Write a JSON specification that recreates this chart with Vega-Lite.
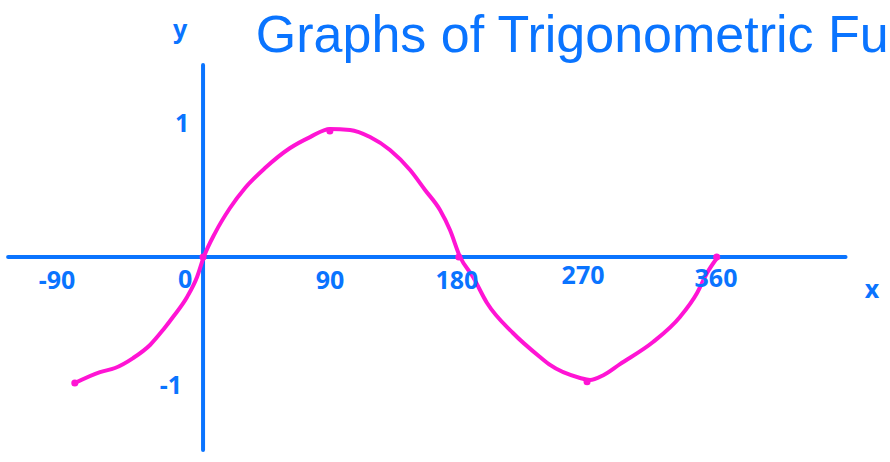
{
  "$schema": "https://vega.github.io/schema/vega-lite/v6.json",
  "width": 890,
  "height": 462,
  "autosize": "none",
  "padding": 0,
  "background": "white",
  "config": {"view": {"stroke": null}},
  "datasets": {
    "curve": [
      {"x": -90, "y": -1.0}, {"x": -72.3, "y": -0.913}, {"x": -61.8, "y": -0.881}, {"x": -49.1, "y": -0.802},
      {"x": -37.2, "y": -0.698}, {"x": -28.1, "y": -0.579}, {"x": -21.1, "y": -0.476}, {"x": -11.2, "y": -0.317},
      {"x": -4.2, "y": -0.159}, {"x": 0.5, "y": 0.0}, {"x": 8.4, "y": 0.19}, {"x": 18.9, "y": 0.389},
      {"x": 29.5, "y": 0.548}, {"x": 43.5, "y": 0.706}, {"x": 61.1, "y": 0.865}, {"x": 75.1, "y": 0.952},
      {"x": 89.1, "y": 1.016}, {"x": 103.2, "y": 1.008}, {"x": 117.2, "y": 0.952}, {"x": 131.2, "y": 0.849},
      {"x": 145.3, "y": 0.69}, {"x": 155.8, "y": 0.532}, {"x": 166.3, "y": 0.373}, {"x": 173.3, "y": 0.214},
      {"x": 180.4, "y": 0.0}, {"x": 189.5, "y": -0.159}, {"x": 199.3, "y": -0.365}, {"x": 217.5, "y": -0.603},
      {"x": 236.5, "y": -0.794}, {"x": 243.5, "y": -0.857}, {"x": 264.6, "y": -0.96}, {"x": 271.6, "y": -0.976},
      {"x": 280.6, "y": -0.94}, {"x": 292.6, "y": -0.85}, {"x": 315.8, "y": -0.675}, {"x": 334.7, "y": -0.476},
      {"x": 346.7, "y": -0.286}, {"x": 353.7, "y": -0.127}, {"x": 361.2, "y": 0.0}
    ],
    "dots": [
      {"x": -90, "y": -1}, {"x": 0, "y": 0}, {"x": 89, "y": 1.0}, {"x": 179.5, "y": 0},
      {"x": 269.5, "y": -0.99}, {"x": 360.5, "y": 0}
    ],
    "xaxis": [{"x": -136.8, "x2": 450.9, "y": 0}],
    "yaxis": [{"x": 0, "y": 1.524, "y2": -1.532}],
    "labels": [
      {"text": "-90", "x": -102.5, "y": -0.19},
      {"text": "0", "x": -12.6, "y": -0.183},
      {"text": "90", "x": 89.1, "y": -0.19},
      {"text": "180", "x": 178.2, "y": -0.19},
      {"text": "270", "x": 266.7, "y": -0.151},
      {"text": "360", "x": 360, "y": -0.175},
      {"text": "x", "x": 469.5, "y": -0.262},
      {"text": "y", "x": -16.1, "y": 1.8},
      {"text": "1", "x": -14.7, "y": 1.056},
      {"text": "-1", "x": -22.5, "y": -1.024}
    ],
    "title": [{"text": "Graphs of Trigonometric Functions", "x": 37, "y": 1.627}]
  },
  "layer": [
    {
      "data": {"name": "xaxis"},
      "mark": {"type": "rule", "color": "#0a74ff", "strokeWidth": 4, "strokeCap": "round"},
      "encoding": {
        "x": {"field": "x", "type": "quantitative", "scale": {"domain": [-142.5, 482.1], "nice": false, "zero": false}, "axis": null},
        "x2": {"field": "x2"},
        "y": {"field": "y", "type": "quantitative", "scale": {"domain": [-1.627, 2.04], "nice": false, "zero": false}, "axis": null}
      }
    },
    {
      "data": {"name": "yaxis"},
      "mark": {"type": "rule", "color": "#0a74ff", "strokeWidth": 4, "strokeCap": "round"},
      "encoding": {
        "x": {"field": "x", "type": "quantitative"},
        "y": {"field": "y", "type": "quantitative"},
        "y2": {"field": "y2"}
      }
    },
    {
      "data": {"name": "curve"},
      "mark": {"type": "line", "color": "#ff14d4", "strokeWidth": 4, "strokeCap": "round", "strokeJoin": "round", "interpolate": "monotone"},
      "encoding": {
        "x": {"field": "x", "type": "quantitative"},
        "y": {"field": "y", "type": "quantitative"}
      }
    },
    {
      "data": {"name": "dots"},
      "mark": {"type": "circle", "color": "#ff14d4", "size": 50, "opacity": 1},
      "encoding": {
        "x": {"field": "x", "type": "quantitative"},
        "y": {"field": "y", "type": "quantitative"}
      }
    },
    {
      "data": {"name": "labels"},
      "mark": {"type": "text", "color": "#0a74ff", "font": "Noto Sans", "fontSize": 25, "fontWeight": "bold", "align": "center", "baseline": "middle"},
      "encoding": {
        "x": {"field": "x", "type": "quantitative"},
        "y": {"field": "y", "type": "quantitative"},
        "text": {"field": "text"}
      }
    },
    {
      "data": {"name": "title"},
      "mark": {"type": "text", "color": "#0a74ff", "font": "Liberation Sans", "fontSize": 52, "align": "left", "baseline": "alphabetic"},
      "encoding": {
        "x": {"field": "x", "type": "quantitative"},
        "y": {"field": "y", "type": "quantitative"},
        "text": {"field": "text"}
      }
    }
  ]
}
